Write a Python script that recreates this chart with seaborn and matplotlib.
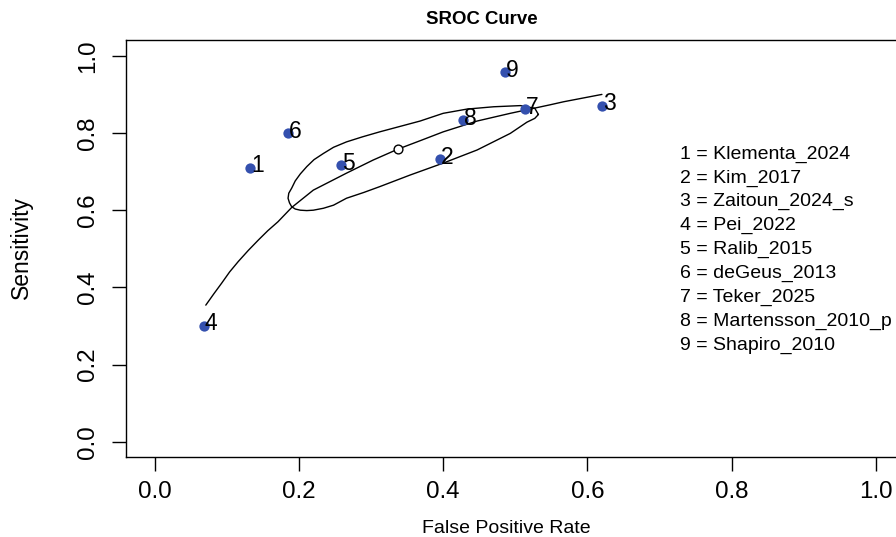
import matplotlib

matplotlib.use("Agg")
import matplotlib.pyplot as plt
import pandas as pd
import seaborn as sns


STUDIES = [
    "Klementa_2024",
    "Kim_2017",
    "Zaitoun_2024_s",
    "Pei_2022",
    "Ralib_2015",
    "deGeus_2013",
    "Teker_2025",
    "Martensson_2010_p",
    "Shapiro_2010",
]
FPR = [0.132, 0.396, 0.620, 0.068, 0.258, 0.185, 0.513, 0.428, 0.486]
SENS = [0.710, 0.733, 0.871, 0.301, 0.716, 0.799, 0.862, 0.834, 0.958]

SUMMARY_FPR = [0.337]
SUMMARY_SENS = [0.759]

# SROC curve
CURVE_FPR = [0.071, 0.082, 0.093, 0.104, 0.116, 0.130, 0.144, 0.157, 0.171, 0.190,
             0.220, 0.266, 0.303, 0.337, 0.368, 0.400, 0.447, 0.493, 0.548, 0.567, 0.620]
CURVE_SENS = [0.354, 0.383, 0.411, 0.440, 0.467, 0.496, 0.523, 0.547, 0.570, 0.607,
              0.652, 0.696, 0.730, 0.758, 0.780, 0.803, 0.831, 0.851, 0.873, 0.881, 0.900]

# confidence region outline
REGION_FPR = [0.532, 0.527, 0.507, 0.470, 0.433, 0.400, 0.368, 0.340, 0.312, 0.288,
              0.266, 0.248, 0.234, 0.221, 0.211, 0.202, 0.195, 0.190, 0.186, 0.185,
              0.187, 0.190, 0.195, 0.202, 0.211, 0.220, 0.234, 0.248, 0.266, 0.290,
              0.312, 0.354, 0.400, 0.447, 0.493, 0.516, 0.527, 0.532]
REGION_SENS = [0.848, 0.864, 0.871, 0.868, 0.862, 0.851, 0.831, 0.817, 0.803, 0.790,
               0.777, 0.763, 0.747, 0.731, 0.713, 0.694, 0.676, 0.657, 0.644, 0.631,
               0.619, 0.609, 0.603, 0.600, 0.599, 0.600, 0.605, 0.613, 0.631, 0.646,
               0.661, 0.691, 0.722, 0.756, 0.799, 0.828, 0.838, 0.848]

TICKS = [0.0, 0.2, 0.4, 0.6, 0.8, 1.0]
TICK_LABELS = ["0.0", "0.2", "0.4", "0.6", "0.8", "1.0"]

POINT_COLOR = "#3450ae"


def main() -> None:
    sns.set_style("white")
    plt.rcParams["font.family"] = ["Liberation Sans", "DejaVu Sans"]

    points = pd.DataFrame({"fpr": FPR, "sens": SENS, "study": STUDIES})
    curve = pd.DataFrame({"fpr": CURVE_FPR, "sens": CURVE_SENS})
    region = pd.DataFrame({"fpr": REGION_FPR, "sens": REGION_SENS})
    summary = pd.DataFrame({"fpr": SUMMARY_FPR, "sens": SUMMARY_SENS})

    fig = plt.figure(figsize=(8.96, 5.37), dpi=100)
    ax = fig.add_axes([0.1403, 0.1486, 0.8697, 0.7762])

    sns.lineplot(data=curve, x="fpr", y="sens", sort=False, estimator=None,
                 color="black", lw=1.0, ax=ax)
    sns.lineplot(data=region, x="fpr", y="sens", sort=False, estimator=None,
                 color="black", lw=1.0, ax=ax)
    sns.scatterplot(data=points, x="fpr", y="sens", color=POINT_COLOR, s=55,
                    edgecolor=POINT_COLOR, linewidth=0, ax=ax, zorder=3)
    sns.scatterplot(data=summary, x="fpr", y="sens", s=40, facecolor="white",
                    edgecolor="black", linewidth=1.0, ax=ax, zorder=4)

    for i, row in points.iterrows():
        ax.annotate(str(i + 1), (row["fpr"], row["sens"]), xytext=(5.3, 1.3),
                    textcoords="offset points", ha="center", va="center",
                    fontsize=16.5, color="black", zorder=5)

    for i, name in enumerate(STUDIES):
        fig.text(680 / 896, 1 - (154 + i * 23.95) / 537, f"{i + 1} = {name}",
                 ha="left", va="center", fontsize=14, color="black")

    ax.set_xlim(-0.04, 1.04)
    ax.set_ylim(-0.04, 1.04)
    ax.set_xticks(TICKS)
    ax.set_xticklabels(TICK_LABELS)
    ax.set_yticks(TICKS)
    ax.set_yticklabels(TICK_LABELS)
    ax.tick_params(axis="both", direction="out", length=10, width=1.0,
                   color="black", labelsize=17.4, labelcolor="black",
                   bottom=True, left=True)
    ax.tick_params(axis="x", pad=7)
    ax.tick_params(axis="y", pad=9, labelrotation=90)
    for label in ax.get_yticklabels():
        label.set_va("center")

    for spine in ax.spines.values():
        spine.set_visible(True)
        spine.set_color("black")
        spine.set_linewidth(1.0)

    ax.set_xlabel("False Positive Rate", fontsize=14, color="black")
    ax.xaxis.set_label_coords((506 - 125.7) / 779.2, (457.2 - 528.5) / 416.8)
    ax.xaxis.label.set_va("center")
    ax.set_ylabel("Sensitivity", fontsize=16.5, color="black")
    ax.yaxis.set_label_coords((21.5 - 125.7) / 779.2, (457.2 - 248) / 416.8)
    ax.yaxis.label.set_va("center")

    fig.text(482 / 896, 1 - 19.3 / 537, "SROC Curve", ha="center", va="center",
             fontsize=13.4, fontweight="bold", color="black")

    fig.savefig("out.png", dpi=100)
    plt.close(fig)


if __name__ == "__main__":
    main()
